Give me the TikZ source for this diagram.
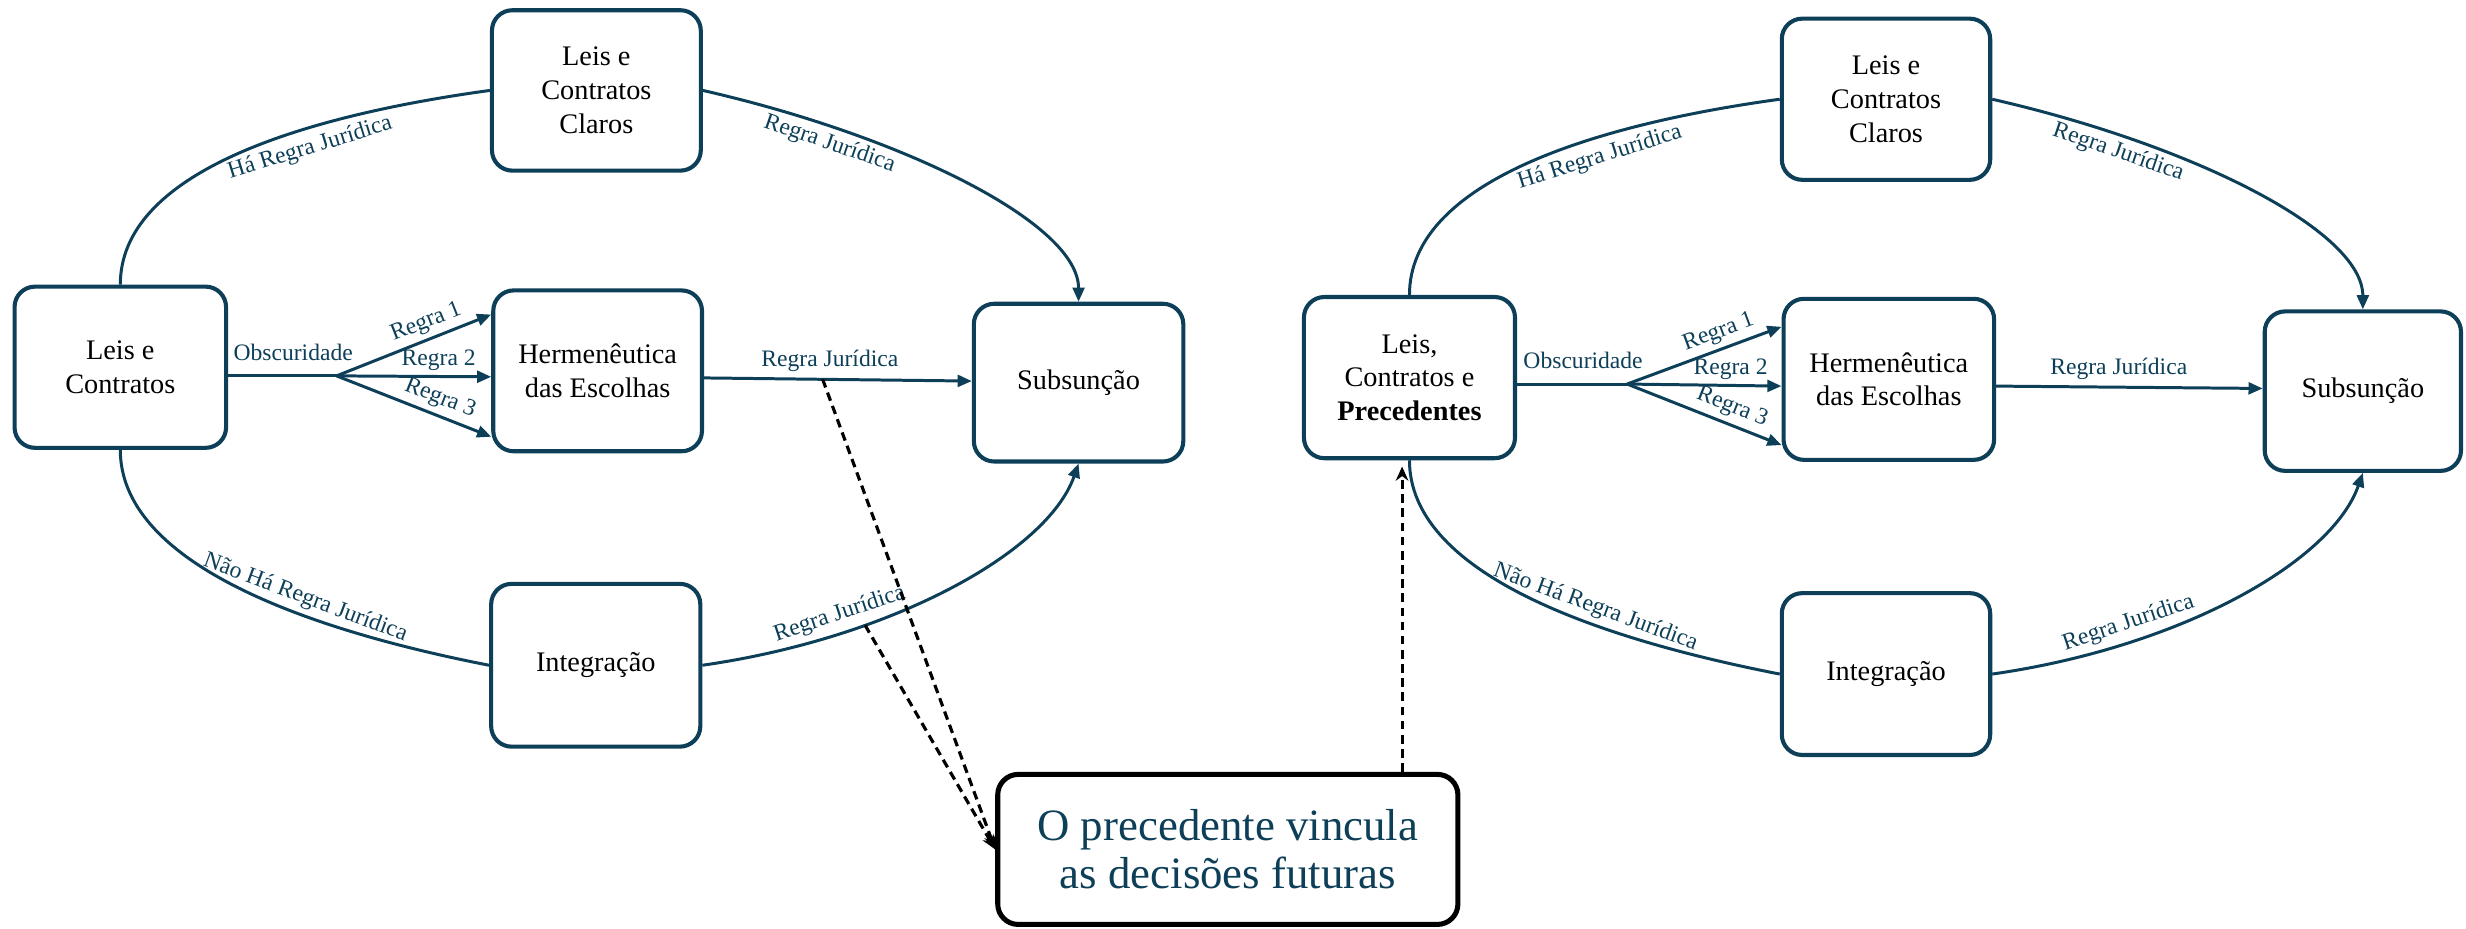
\documentclass[tikz,border=0pt]{standalone}
\usepackage{fontspec}
\setmainfont{Liberation Serif}
\usetikzlibrary{arrows.meta}
\definecolor{tealc}{RGB}{13,63,88}
\begin{document}
\begin{tikzpicture}[x=1pt,y=1pt,
  box/.style={draw=tealc, line width=2.6pt, rounded corners=13pt, fill=white, align=center, inner sep=0pt, font=\fontsize{18}{21.5}\selectfont, text=black},
  lbl/.style={text=tealc, font=\fontsize{15}{17}\selectfont, inner sep=3pt},
  conn/.style={draw=tealc, line width=1.9pt},
  arr/.style={conn, -{Triangle[length=9pt,width=7.5pt]}},
  dsh/.style={draw=black, line width=2pt, dash pattern=on 5.5pt off 3.5pt, -{Stealth[length=9pt,width=8pt]}},
  callout/.style={draw=black, line width=3.2pt, rounded corners=13pt, fill=white, align=center, inner sep=0pt, text=tealc, font=\fontsize{28.5}{30.4}\selectfont}
]
\useasboundingbox (0,0) rectangle (1568,-590.7);

% ---------------- left diagram ----------------
\node[box, minimum width=134.5, minimum height=102.5] (L1) at (76.5,-233.5) {Leis e\\Contratos};
\node[box, minimum width=132.8, minimum height=102] (C1) at (379.2,-57.5) {Leis e\\Contratos\\Claros};
\node[box, minimum width=132.7, minimum height=102.3] (H1) at (380,-235.8) {Hermenêutica\\das Escolhas};
\node[box, minimum width=133.2, minimum height=100.3] (S1) at (685.8,-243.3) {Subsunção};
\node[box, minimum width=133, minimum height=103.5] (I1) at (378.8,-423) {Integração};

\coordinate (B1) at (214,-239);
\draw[conn] (L1.east |- B1) -- node[lbl, anchor=base, pos=0.6, yshift=10pt] {Obscuridade} (B1);
\draw[arr] (B1) -- node[lbl, sloped, above, pos=0.62] {Regra 1} (H1.west |- 0,-200);
\draw[arr] (B1) -- node[lbl, anchor=base, pos=0.66, yshift=7pt] {Regra 2} (H1.west |- 0,-239.6);
\draw[arr] (B1) -- node[lbl, sloped, above, pos=0.63] {Regra 3} (H1.west |- 0,-277.7);
\draw[arr] (H1.east |- 0,-240.3) -- node[lbl, anchor=base, pos=0.47, yshift=8pt] {Regra Jurídica} coordinate[pos=0.443] (d1) (S1.west |- 0,-242.3);

\draw[conn] (L1.north) .. controls +(0,70) and +(-124,-17) .. node[lbl, sloped, below=2pt, pos=0.66] {Há Regra Jurídica} (C1.west);
\draw[arr] (C1.east) .. controls +(127,-29) and +(0,50) .. node[lbl, sloped, below, pos=0.23] {Regra Jurídica} (S1.north);
\draw[conn] (L1.south) .. controls +(0,-70) and +(-123,24) .. node[lbl, sloped, above, pos=0.65] {Não Há Regra Jurídica} (I1.west);
\draw[arr] (I1.east) .. controls +(119,17) and +(-20,-57) .. node[lbl, sloped, above=1pt, pos=0.27] {Regra Jurídica} coordinate[pos=0.31] (d2) (S1.south);

% ---------------- right diagram ----------------
\node[box, minimum width=134.2, minimum height=102.5] (L2) at (896.2,-240.1) {Leis,\\Contratos e\\\textbf{Precedentes}};
\node[box, minimum width=132.5, minimum height=102.5] (C2) at (1199.2,-63.1) {Leis e\\Contratos\\Claros};
\node[box, minimum width=133.9, minimum height=102.4] (H2) at (1201,-241.2) {Hermenêutica\\das Escolhas};
\node[box, minimum width=124.8, minimum height=101.4] (S2) at (1502.4,-248.7) {Subsunção};
\node[box, minimum width=132.5, minimum height=102.9] (I2) at (1199.2,-428.6) {Integração};

\coordinate (B2) at (1034.6,-244.2);
\draw[conn] (L2.east |- B2) -- node[lbl, anchor=base, pos=0.6, yshift=10pt] {Obscuridade} (B2);
\draw[arr] (B2) -- node[lbl, sloped, above, pos=0.63] {Regra 1} (H2.west |- 0,-207.8);
\draw[arr] (B2) -- node[lbl, anchor=base, pos=0.67, yshift=7pt] {Regra 2} (H2.west |- 0,-245.5);
\draw[arr] (B2) -- node[lbl, sloped, above, pos=0.64] {Regra 3} (H2.west |- 0,-283);
\draw[arr] (H2.east |- 0,-245.5) -- node[lbl, anchor=base, pos=0.46, yshift=8pt] {Regra Jurídica} (S2.west |- 0,-247);

\draw[conn] (L2.north) .. controls +(0,70) and +(-124,-17) .. node[lbl, sloped, below=2pt, pos=0.66] {Há Regra Jurídica} (C2.west);
\draw[arr] (C2.east) .. controls +(127,-29) and +(0,50) .. node[lbl, sloped, below, pos=0.23] {Regra Jurídica} (S2.north);
\draw[conn] (L2.south) .. controls +(0,-70) and +(-123,24) .. node[lbl, sloped, above, pos=0.65] {Não Há Regra Jurídica} (I2.west);
\draw[arr] (I2.east) .. controls +(119,17) and +(-20,-57) .. node[lbl, sloped, above=1pt, pos=0.27] {Regra Jurídica} (S2.south);

% ---------------- callout ----------------
\node[callout, minimum width=292.6, minimum height=95.4] (CO) at (780.7,-540.1) {O precedente vincula\\as decisões futuras};
\coordinate (d3x) at (891.5,0);
\draw[dsh] (d1) -- (CO.west);
\draw[dsh] (d2) -- (CO.west);
\draw[dsh, shorten >=4pt] (CO.north -| d3x) -- (L2.south -| d3x);
\end{tikzpicture}
\end{document}
